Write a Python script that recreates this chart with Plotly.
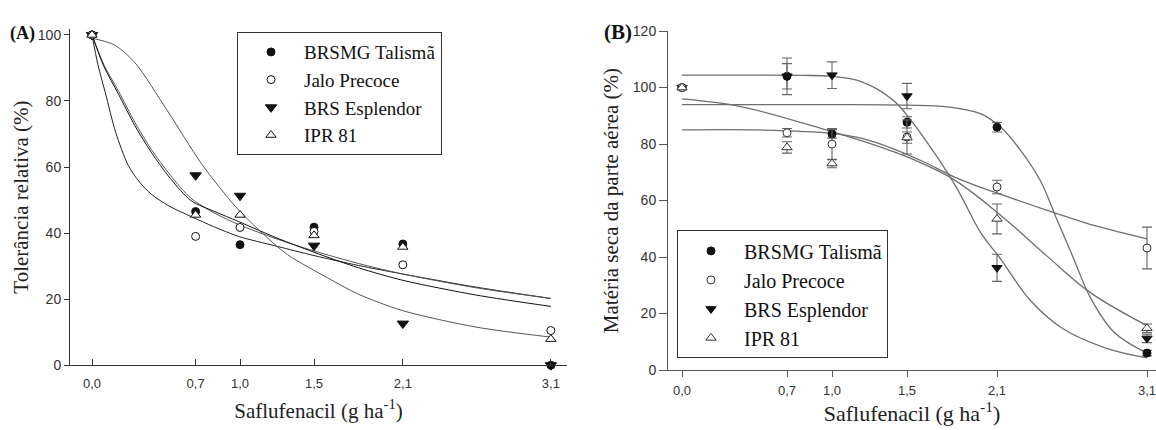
import plotly.graph_objects as go

# ---------------- data ----------------
doses = [0.0, 0.7, 1.0, 1.5, 2.1, 3.1]
tick_labels = ["0,0", "0,7", "1,0", "1,5", "2,1", "3,1"]
cultivars = ["BRSMG Talismã", "Jalo Precoce", "BRS Esplendor", "IPR 81"]

# Panel A: relative tolerance (%)
A_talisma = [100, 46.5, 36.5, 41.8, 36.7, 0.0]
A_jalo = [100, 39.0, 41.7, 40.5, 30.4, 10.5]
A_esplendor = [100, 57.5, 51.3, 36.2, 12.6, 0.0]
A_ipr = [100, 45.5, 45.5, 39.3, 35.8, 7.9]

# Panel A fitted curves
A_fit_x_t = [0, 0.04, 0.09, 0.16, 0.245, 0.32, 0.4, 0.52, 0.67, 0.82, 0.99, 1.25, 1.5, 1.8, 2.1, 2.6, 3.1]
A_fit_t = [100, 91, 82.5, 70.5, 60.5, 55.5, 51.8, 48.2, 45, 42, 39, 36, 33.2, 30.2, 27.6, 23.6, 20.2]
A_fit_x_ji = [0, 0.08, 0.18, 0.29, 0.40, 0.53, 0.67, 0.83, 0.99, 1.25, 1.5, 1.8, 2.1, 2.6, 3.1]
A_fit_j = [100, 91, 82.9, 73.5, 65.4, 57.5, 50.5, 46, 42.6, 38.2, 34.6, 30.8, 27.6, 23.4, 20.2]
A_fit_i = [100, 90.5, 82, 72.5, 64.5, 56.5, 49.8, 46.5, 43.5, 38.5, 34.2, 29.5, 25.7, 21.2, 17.8]
A_fit_x_e = [0, 0.15, 0.29, 0.51, 0.74, 0.97, 1.15, 1.32, 1.61, 1.8, 2.1, 2.6, 3.1]
A_fit_e = [99, 97, 91.6, 77, 61, 48, 40, 33.5, 26, 21.5, 16.5, 11.5, 8.5]

# Panel B: shoot dry matter (%) with error bars
B_talisma = [100, 104.0, 83.6, 87.7, 86.0, 6.0]
B_talisma_err = [0, 4.5, 1.5, 2.0, 1.7, 1.0]
B_jalo = [100, 84.0, 80.0, 82.5, 64.8, 43.2]
B_jalo_err = [0, 1.5, 5.5, 6.0, 2.4, 7.4]
B_esplendor = [100, 104.0, 104.4, 97.0, 36.2, 11.2]
B_esplendor_err = [0, 6.5, 4.7, 4.5, 4.8, 1.5]
B_ipr = [100, 78.8, 73.1, 82.3, 53.5, 14.8]
B_ipr_err = [0, 2.0, 1.5, 2.0, 5.3, 1.5]

# Panel B fitted curves
B_fit_x_e = [0, 0.5, 0.8, 1.0, 1.19, 1.41, 1.65, 1.83, 1.99, 2.12, 2.32, 2.54, 2.83, 3.1]
B_fit_e = [104.4, 104.4, 104.3, 104, 102.2, 95.4, 79.4, 64.6, 48.7, 39.6, 24.8, 14.6, 7.7, 4.3]
B_fit_x_t = [0, 1.0, 1.5, 1.77, 1.99, 2.12, 2.25, 2.39, 2.5, 2.61, 2.72, 2.88, 3.1]
B_fit_t = [94, 94, 93.8, 93.2, 90.8, 86.2, 78.3, 66.9, 53.2, 39.6, 25.9, 13.4, 6.0]
B_fit_x_j = [0, 0.5, 1.0, 1.2, 1.4, 1.6, 1.81, 2.0, 2.12, 2.43, 2.76, 3.1]
B_fit_j = [85, 85, 83.8, 82, 78.5, 74, 68.5, 64.5, 62.3, 56.6, 51, 46.4]
B_fit_x_i = [0, 0.39, 0.96, 1.32, 1.5, 1.81, 2.12, 2.43, 2.72, 3.1]
B_fit_i = [96, 93.3, 85, 79, 75.5, 67.5, 55, 40.5, 27.5, 15.7]

# ---------------- styling ----------------
W, H = 1156, 430
SERIF = "Liberation Serif"
SANS = "Liberation Sans"

def px_x(p):
    return p / W

def px_y(p):
    return (H - p) / H

styleA = {
    "BRSMG Talismã": dict(symbol="circle", color="#111111", line=dict(color="#111111", width=1), size=8),
    "Jalo Precoce": dict(symbol="circle", color="white", line=dict(color="#111111", width=1), size=8),
    "BRS Esplendor": dict(symbol="triangle-down", color="#111111", line=dict(color="#111111", width=1), size=10),
    "IPR 81": dict(symbol="triangle-up", color="white", line=dict(color="#111111", width=1), size=9),
}
styleB = {
    "BRSMG Talismã": dict(symbol="circle", color="#111111", line=dict(color="#111111", width=1), size=8),
    "Jalo Precoce": dict(symbol="circle", color="white", line=dict(color="#333333", width=1), size=8),
    "BRS Esplendor": dict(symbol="triangle-down", color="#111111", line=dict(color="#111111", width=1), size=9),
    "IPR 81": dict(symbol="triangle-up", color="white", line=dict(color="#333333", width=1), size=9),
}

fig = go.Figure()

# ---- Panel A curves ----
curvesA = [
    (A_fit_x_t, A_fit_t, "#222222"),
    (A_fit_x_ji, A_fit_j, "#555555"),
    (A_fit_x_ji, A_fit_i, "#111111"),
    (A_fit_x_e, A_fit_e, "#555555"),
]
for cx, cy, col in curvesA:
    fig.add_trace(go.Scatter(x=cx, y=cy, mode="lines", line=dict(color=col, width=1, shape="spline", smoothing=0.8),
                             showlegend=False, hoverinfo="skip", xaxis="x", yaxis="y", cliponaxis=False))

# ---- Panel A points ----
seriesA = [("BRSMG Talismã", A_talisma), ("BRS Esplendor", A_esplendor),
           ("Jalo Precoce", A_jalo), ("IPR 81", A_ipr)]
orderA = {"BRSMG Talismã": 0, "Jalo Precoce": 1, "BRS Esplendor": 2, "IPR 81": 3}
for name, vals in seriesA:
    fig.add_trace(go.Scatter(x=doses, y=vals, mode="markers", name=name, marker=styleA[name],
                             xaxis="x", yaxis="y", legend="legend", legendrank=orderA[name],
                             cliponaxis=False))

# ---- Panel B curves ----
curvesB = [
    (B_fit_x_e, B_fit_e),
    (B_fit_x_t, B_fit_t),
    (B_fit_x_j, B_fit_j),
    (B_fit_x_i, B_fit_i),
]
for cx, cy in curvesB:
    fig.add_trace(go.Scatter(x=cx, y=cy, mode="lines", line=dict(color="#6e6e6e", width=1.3, shape="spline", smoothing=1.0),
                             showlegend=False, hoverinfo="skip", xaxis="x2", yaxis="y2", cliponaxis=False))

seriesB = [("BRSMG Talismã", B_talisma, B_talisma_err), ("BRS Esplendor", B_esplendor, B_esplendor_err),
           ("Jalo Precoce", B_jalo, B_jalo_err), ("IPR 81", B_ipr, B_ipr_err)]
for name, vals, err in seriesB:
    fig.add_trace(go.Scatter(x=doses, y=vals, mode="markers", name=name, marker=styleB[name],
                             error_y=dict(type="data", array=err, visible=True, color="#666666", thickness=1.1, width=5),
                             xaxis="x2", yaxis="y2", legend="legend2", legendrank=orderA[name],
                             cliponaxis=False))

axis_common = dict(showgrid=False, zeroline=False, showline=True, linewidth=1)

fig.update_layout(
    width=W, height=H,
    margin=dict(l=0, r=0, t=0, b=0),
    paper_bgcolor="white", plot_bgcolor="white",
    showlegend=True,
    xaxis=dict(**axis_common, domain=[px_x(70), px_x(567)], range=[-0.1486, 3.209], anchor="y",
               linecolor="#333333", tickvals=doses, ticktext=tick_labels, ticks="inside", ticklen=6,
               tickcolor="#333333", tickfont=dict(family=SANS, size=13, color="#333333"),
               ticklabelstandoff=6,
               title=dict(text="Saflufenacil (g ha<sup>-1</sup>)", font=dict(family=SERIF, size=21, color="#222222"),
                          standoff=13)),
    yaxis=dict(**axis_common, domain=[px_y(371), px_y(21.8)], range=[0, 101.8], anchor="x",
               linecolor="#333333", tickvals=[0, 20, 40, 60, 80, 100], ticks="outside", ticklen=5,
               tickcolor="#333333", tickfont=dict(family=SANS, size=14, color="#333333"),
               title=dict(text="Tolerância relativa (%)", font=dict(family=SERIF, size=21, color="#222222"),
                          standoff=3)),
    xaxis2=dict(**axis_common, domain=[px_x(668), 1.0], range=[-0.0933, 3.16], anchor="y2",
                linecolor="#555555", tickvals=doses, ticktext=tick_labels, ticks="outside", ticklen=6,
                tickcolor="#555555", tickfont=dict(family=SANS, size=13, color="#333333"),
                ticklabeloverflow="allow", ticklabelstandoff=2,
                title=dict(text="Saflufenacil (g ha<sup>-1</sup>)", font=dict(family=SERIF, size=22, color="#222222"),
                           standoff=5)),
    yaxis2=dict(**axis_common, domain=[px_y(376), px_y(24)], range=[0, 120], anchor="x2",
                linecolor="#555555", tickvals=[0, 20, 40, 60, 80, 100, 120], ticks="outside", ticklen=8,
                tickcolor="#555555", tickfont=dict(family=SANS, size=14, color="#333333"),
                title=dict(text="Matéria seca da parte aérea (%)", font=dict(family=SERIF, size=21, color="#222222"),
                           standoff=8)),
    legend=dict(x=px_x(237), y=px_y(25), xanchor="left", yanchor="top", bordercolor="#333333", borderwidth=1,
                bgcolor="white", font=dict(family=SERIF, size=19, color="#111111"), itemwidth=56,
                tracegroupgap=0, traceorder="normal"),
    legend2=dict(x=px_x(677), y=px_y(231), xanchor="left", yanchor="top", bordercolor="#333333", borderwidth=1,
                 bgcolor="white", font=dict(family=SERIF, size=20, color="#111111"), itemwidth=56,
                 tracegroupgap=0, traceorder="normal"),
    annotations=[
        dict(text="<b>(A)</b>", x=px_x(8), y=px_y(27), xref="paper", yref="paper", xanchor="left", yanchor="middle",
             showarrow=False, font=dict(family=SERIF, size=18, color="#111111")),
        dict(text="<b>(B)</b>", x=px_x(602), y=px_y(25), xref="paper", yref="paper", xanchor="left", yanchor="middle",
             showarrow=False, font=dict(family=SERIF, size=21, color="#111111")),
    ],
)

fig.write_html("out.html")
